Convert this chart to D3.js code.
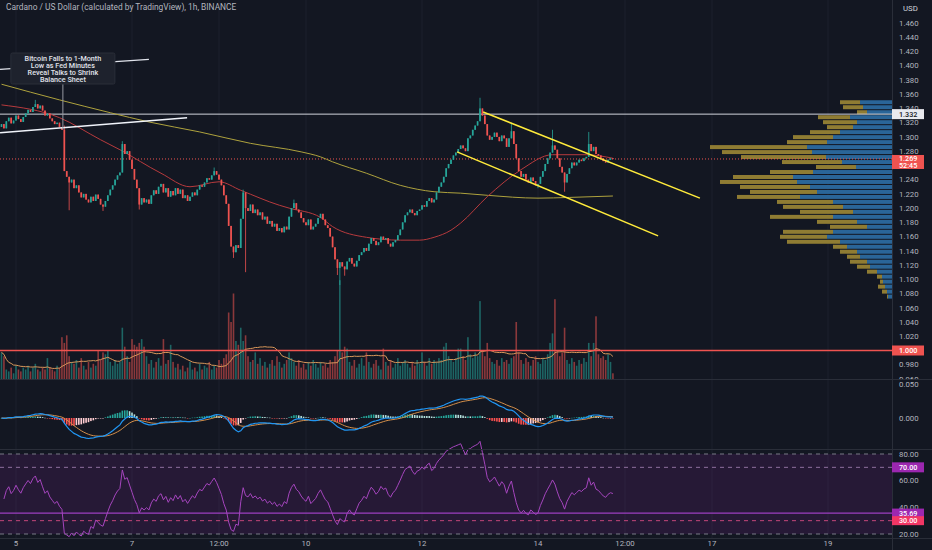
<!DOCTYPE html>
<html>
<head>
<meta charset="utf-8">
<script src="https://cdn.jsdelivr.net/npm/d3@7"></script>
<style>
 body { margin:0; background:#131722; }
 svg { display:block; font-family: Roboto, "Noto Sans", sans-serif; }
</style>
</head>
<body>
<svg id="chart" width="932" height="550"></svg>
<script>
// ADAUSD 1h candles, first candle = 4 Jan 2022 18:00
var firstOpen = 1.314;
var closes = [
 1.318,1.312,1.322,1.327,1.319,1.323,1.330,1.325,1.321,1.328,
 1.333,1.338,1.335,1.342,1.346,1.340,1.344,1.337,1.330,1.333,
 1.326,1.322,1.318,1.320,1.314,1.310,1.252,1.244,1.236,1.240,
 1.228,1.232,1.222,1.215,1.220,1.212,1.208,1.216,1.210,1.219,
 1.213,1.205,1.202,1.210,1.218,1.226,1.232,1.240,1.246,1.250,
 1.290,1.276,1.280,1.268,1.255,1.240,1.228,1.205,1.214,1.208,
 1.212,1.206,1.218,1.225,1.220,1.230,1.234,1.222,1.228,1.216,
 1.224,1.218,1.228,1.220,1.226,1.214,1.218,1.210,1.216,1.222,
 1.218,1.226,1.232,1.230,1.236,1.242,1.240,1.246,1.252,1.247,
 1.240,1.232,1.218,1.206,1.175,1.146,1.138,1.148,1.144,1.185,
 1.222,1.200,1.196,1.205,1.193,1.198,1.190,1.194,1.184,1.188,
 1.178,1.182,1.174,1.178,1.168,1.172,1.166,1.174,1.170,1.188,
 1.200,1.207,1.198,1.194,1.186,1.180,1.176,1.184,1.170,1.174,
 1.178,1.186,1.192,1.184,1.176,1.172,1.160,1.145,1.128,1.116,
 1.124,1.118,1.114,1.125,1.130,1.122,1.118,1.126,1.134,1.138,
 1.144,1.140,1.150,1.158,1.154,1.148,1.152,1.160,1.156,1.158,
 1.150,1.146,1.152,1.155,1.162,1.170,1.180,1.190,1.194,1.198,
 1.193,1.190,1.196,1.198,1.204,1.202,1.210,1.214,1.208,1.212,
 1.222,1.230,1.236,1.244,1.256,1.262,1.268,1.274,1.278,1.283,
 1.288,1.284,1.280,1.298,1.302,1.310,1.316,1.322,1.340,1.330,
 1.318,1.302,1.296,1.300,1.306,1.300,1.294,1.302,1.298,1.286,
 1.298,1.308,1.290,1.270,1.252,1.244,1.248,1.240,1.236,1.243,
 1.238,1.232,1.234,1.244,1.252,1.262,1.270,1.278,1.288,1.282,
 1.270,1.258,1.250,1.236,1.248,1.256,1.264,1.260,1.264,1.268,
 1.266,1.270,1.272,1.290,1.280,1.286,1.276,1.274,1.270,1.266,
 1.264,1.268,1.270,1.269
];
var wickHigh = {14:1.352, 50:1.294, 88:1.257, 100:1.226, 121:1.212, 198:1.355, 211:1.320, 228:1.310, 243:1.307, 26:1.316};
var wickLow  = {28:1.197, 42:1.196, 57:1.198, 96:1.130, 101:1.110, 139:1.106, 140:1.092, 142:1.105, 222:1.228, 233:1.223};
// volume, millions ADA
var volumes = [
 14,12,5,4,6,3,7,5,4,6,
 5,7,4,6,8,5,4,6,5,11,
 6,5,4,7,6,22,19,23,12,9,
 8,10,6,11,7,5,9,6,8,7,
 15,10,14,13,15,9,7,10,8,9,
 27,17,12,9,21,18,17,19,21,17,
 12,8,10,6,9,11,7,21,8,10,
 18,9,6,8,5,7,4,6,9,5,
 6,4,8,5,7,6,9,5,7,6,
 10,8,11,13,35,30,45,20,18,27,
 20,23,12,9,10,14,8,11,7,9,
 6,8,10,7,12,9,6,8,10,14,
 11,9,7,10,6,8,5,9,7,10,
 8,6,9,7,8,6,10,9,12,15,
 52,14,17,16,9,7,10,6,8,11,
 7,14,9,6,8,10,7,5,16,9,
 7,10,6,8,11,7,9,10,8,6,
 9,7,10,8,14,9,7,11,8,10,
 9,11,10,17,19,12,10,9,11,16,
 16,12,10,22,13,11,14,12,41,15,
 12,19,11,9,8,10,7,11,9,10,
 8,11,12,30,14,10,8,11,9,7,
 10,12,9,8,11,10,13,19,24,42,
 15,12,14,27,10,8,11,9,7,10,
 8,11,9,19,12,19,33,13,11,12,
 10,13,9,3
];
// moving averages on price: [candle index, price]
var maRed = [[0,1.345],[24,1.327],[41,1.296],[49,1.282],[66,1.249],[78,1.230],[90,1.237],[99,1.225],[115,1.204],[119,1.200],[132,1.187],[137,1.174],[151,1.159],[165,1.155],[173,1.155],[179,1.159],[186,1.169],[190,1.179],[201,1.216],[215,1.254],[228,1.275],[242,1.275],[253,1.270]];
var maYellow = [[0,1.374],[24,1.352],[45,1.334],[61,1.321],[82,1.307],[103,1.291],[124,1.279],[132,1.272],[137,1.265],[151,1.249],[165,1.232],[179,1.223],[190,1.221],[201,1.218],[222,1.214],[235,1.215],[253,1.217]];
// visible range volume profile
var pvPrices = [1.348,1.341,1.334,1.327,1.320,1.313,1.306,1.299,1.292,1.285,1.278,1.271,1.264,1.257,1.250,1.243,1.236,1.229,1.222,1.215,1.208,1.201,1.194,1.187,1.180,1.173,1.166,1.159,1.152,1.145,1.138,1.131,1.124,1.117,1.110,1.103,1.096,1.089,1.082,1.075];
var pvUp   = [32,29,25,42,35,39,52,59,65,85,80,66,50,36,79,99,95,82,75,92,59,49,39,59,35,25,59,65,52,45,35,32,25,22,15,10,9,7,5,4];
var pvDown = [20,20,10,32,34,26,30,40,40,97,90,85,60,40,43,60,77,70,67,63,56,60,53,63,40,37,50,47,53,14,17,13,17,13,10,5,3,7,5,1];
// drawings: [candle index, price]
var trendWhite = [[-0.6,1.306],[76.8,1.327]];
var trendNews  = [[-0.6,1.395],[61,1.409]];
var channelTop = [[199.3,1.335],[289,1.214]];
var channelBot = [[188.5,1.279],[271.7,1.161]];
var levelWhite = 1.332, levelRed = 1.000, lastPrice = 1.269;
var rsiMarker = 35.69;
var newsLines = ["Bitcoin Falls to 1-Month","Low as Fed Minutes","Reveal Talks to Shrink","Balance Sheet"];
// tick labels
var priceTicks = [0.96,0.98,1.02,1.04,1.06,1.08,1.10,1.12,1.14,1.16,1.18,1.20,1.22,1.24,1.28,1.30,1.32,1.34,1.36,1.38,1.40,1.42,1.44,1.46];
var macdTicks = [0, 0.05];
var rsiTicks = [20, 40, 60, 80];
var timeTicks = [new Date(2022,0,5), new Date(2022,0,7), new Date(2022,0,8,12), new Date(2022,0,10), new Date(2022,0,12), new Date(2022,0,14), new Date(2022,0,15,12), new Date(2022,0,17), new Date(2022,0,19)];

var svg = d3.select("#chart");
var axisX = 892;
var t0 = new Date(2022,0,4,18).getTime();
function tAt(i) { return new Date(t0 + i*3600000); }

var x = d3.scaleTime().domain([new Date(2022,0,5), new Date(2022,0,19)]).range([16, 828]);
var y = d3.scaleLinear().domain([1.0, 1.46]).range([350.5, 23]);
var yVol = d3.scaleLinear().domain([0, 60]).range([379, 265]);
var yMacd = d3.scaleLinear().domain([0, 0.05]).range([418, 384]);
var yRsi = d3.scaleLinear().domain([20, 80]).range([534, 454]);
var xi = function(i) { return x(tAt(i)); };

var candles = closes.map(function(c, i) {
    var o = i ? closes[i-1] : firstOpen;
    return {i:i, o:o, c:c, h: wickHigh[i] || Math.max(o,c), l: wickLow[i] || Math.min(o,c), v: volumes[i], up: c >= o};
});

// indicators
function ema(arr, n) {
    var k = 2/(n+1), e = arr[0];
    return arr.map(function(v, i) { e = i ? v*k + e*(1-k) : v; return e; });
}
var e12 = ema(closes, 12), e26 = ema(closes, 26);
var macd = closes.map(function(c, i) { return e12[i] - e26[i]; });
var signal = ema(macd, 9);
var hist = macd.map(function(m, i) { return m - signal[i]; });

// RSI 14 (Wilder), warm-up seeded neutral with the mean move of the first 14 bars
var changes = closes.slice(1).map(function(c, i) { return c - closes[i]; });
var seed = d3.mean(changes.slice(0, 14), function(d){ return Math.abs(d); }) / 2;
var ag = seed, al = seed;
var rsi = changes.map(function(d, k) {
    ag = (ag*13 + Math.max(d,0))/14;
    al = (al*13 + Math.max(-d,0))/14;
    return [k+1, 100 - 100/(1 + ag/al)];
});
var volMa = volumes.map(function(v, i) { return d3.mean(volumes.slice(Math.max(0, i-19), i+1)); });

// background + grid
svg.append("rect").attr("width", 932).attr("height", 550).attr("fill", "#131722");
svg.append("g").selectAll("line").data(timeTicks).enter().append("line")
   .attr("x1", function(d){ return x(d); }).attr("x2", function(d){ return x(d); })
   .attr("y1", 0).attr("y2", 538).attr("stroke", "#1d212c").attr("stroke-width", 1);

// RSI background band
svg.append("rect").attr("x", 0).attr("width", axisX).attr("y", yRsi(80)).attr("height", yRsi(20)-yRsi(80))
   .attr("fill", "#9c27b0").attr("opacity", 0.14);

// clip for main pane
var defs = svg.append("defs");
defs.append("clipPath").attr("id", "mainClip").append("rect").attr("x",0).attr("y",0).attr("width",axisX).attr("height",379);
defs.append("clipPath").attr("id", "axisClip").append("rect").attr("x",axisX).attr("y",0).attr("width",40).attr("height",379);
var main = svg.append("g").attr("clip-path", "url(#mainClip)");

// volume profile
var pvStep = Math.abs(y(1.007) - y(1.0));
var pv = main.append("g");
pvPrices.forEach(function(p, k) {
    var top = y(p + 0.0035), h = pvStep - 1;
    pv.append("rect").attr("x", axisX - pvUp[k]).attr("y", top).attr("width", pvUp[k]).attr("height", h).attr("fill", "#2a6598");
    pv.append("rect").attr("x", axisX - pvUp[k] - pvDown[k]).attr("y", top).attr("width", pvDown[k]).attr("height", h).attr("fill", "#8f7c33");
});

// volume bars
main.append("g").selectAll("rect").data(candles).enter().append("rect")
   .attr("x", function(d){ return xi(d.i) - 0.8; })
   .attr("y", function(d){ return yVol(d.v); })
   .attr("width", 1.6)
   .attr("height", function(d){ return yVol(0) - yVol(d.v); })
   .attr("fill", function(d){ return d.up ? "rgba(38,166,154,0.55)" : "rgba(239,83,80,0.55)"; });
main.append("path").datum(volMa)
   .attr("d", d3.line().x(function(d, i){ return xi(i); }).y(function(d){ return yVol(d); }))
   .attr("fill", "none").attr("stroke", "#d9975a").attr("stroke-width", 1);

// horizontal levels
main.append("line").attr("x1",0).attr("x2",axisX).attr("y1",y(levelRed)).attr("y2",y(levelRed))
   .attr("stroke","#ef5350").attr("stroke-width",1.3);
main.append("line").attr("x1",0).attr("x2",axisX).attr("y1",y(levelWhite)).attr("y2",y(levelWhite))
   .attr("stroke","#d1d4dc").attr("stroke-width",1);
main.append("line").attr("x1",0).attr("x2",axisX).attr("y1",y(lastPrice)).attr("y2",y(lastPrice))
   .attr("stroke","#ef5350").attr("stroke-width",1).attr("stroke-dasharray","1,2");

// moving averages
var maLine = d3.line().x(function(d){ return xi(d[0]); }).y(function(d){ return y(d[1]); }).curve(d3.curveMonotoneX);
main.append("path").datum(maYellow).attr("d", maLine).attr("fill","none").attr("stroke","#aea23d").attr("stroke-width",1);
main.append("path").datum(maRed).attr("d", maLine).attr("fill","none").attr("stroke","#b73a3d").attr("stroke-width",1);

// candles
var cg = main.append("g");
cg.selectAll("line").data(candles).enter().append("line")
  .attr("x1", function(d){ return xi(d.i); }).attr("x2", function(d){ return xi(d.i); })
  .attr("y1", function(d){ return y(d.h); }).attr("y2", function(d){ return y(d.l); })
  .attr("stroke", function(d){ return d.up ? "#26a69a" : "#ef5350"; }).attr("stroke-width", 0.8);
cg.selectAll("rect").data(candles).enter().append("rect")
  .attr("x", function(d){ return xi(d.i) - 0.85; })
  .attr("y", function(d){ return y(Math.max(d.o, d.c)); })
  .attr("width", 1.7)
  .attr("height", function(d){ return Math.max(0.8, Math.abs(y(d.o) - y(d.c))); })
  .attr("fill", function(d){ return d.up ? "#26a69a" : "#ef5350"; });

// drawings
var seg = d3.line().x(function(d){ return xi(d[0]); }).y(function(d){ return y(d[1]); });
main.append("path").datum(trendNews).attr("d", seg).attr("stroke", "#e0e3eb").attr("stroke-width", 1.2).attr("fill","none");
main.append("path").datum(trendWhite).attr("d", seg).attr("stroke", "#f0f3fa").attr("stroke-width", 1.5).attr("fill","none");
main.append("path").datum(channelTop).attr("d", seg).attr("stroke", "#ffeb3b").attr("stroke-width", 1.5).attr("fill","none");
main.append("path").datum(channelBot).attr("d", seg).attr("stroke", "#ffeb3b").attr("stroke-width", 1.5).attr("fill","none");

// news callout
var nx = xi(25.4);
main.append("line").attr("x1", nx).attr("x2", nx).attr("y1", 84).attr("y2", y(1.310))
   .attr("stroke", "#9598a1").attr("stroke-width", 1);
main.append("rect").attr("x", nx - 52).attr("y", 53).attr("width", 104).attr("height", 31).attr("rx", 1.5)
   .attr("fill", "#1e222d").attr("stroke", "#2a2e39");
main.append("g").selectAll("text").data(newsLines).enter().append("text")
   .attr("x", nx).attr("y", function(d, k){ return 60.5 + k*7; })
   .attr("text-anchor", "middle").attr("font-size", "7.2px").attr("font-weight", 500)
   .attr("fill", "#e0e3eb").text(function(d){ return d; });

// title
svg.append("text").attr("x", 6).attr("y", 10).attr("font-size", "8.4px").attr("fill", "#b2b5be")
   .text("Cardano / US Dollar (calculated by TradingView), 1h, BINANCE");

// MACD pane
var mg = svg.append("g");
mg.selectAll("rect").data(hist).enter().append("rect")
  .attr("x", function(d, i){ return xi(i) - 0.8; })
  .attr("y", function(d){ return Math.min(yMacd(d), yMacd(0)); })
  .attr("width", 1.6)
  .attr("height", function(d){ return Math.max(0.5, Math.abs(yMacd(d) - yMacd(0))); })
  .attr("fill", function(d, i){
      var prev = i ? hist[i-1] : d;
      if (d >= 0) return d >= prev ? "#26a69a" : "#b2dfdb";
      return d < prev ? "#ff5252" : "#ffcdd2";
  });
var mline = d3.line().x(function(d, i){ return xi(i); }).y(function(d){ return yMacd(d); });
mg.append("path").datum(signal).attr("d", mline).attr("fill","none").attr("stroke","#d48f4a").attr("stroke-width",1);
mg.append("path").datum(macd).attr("d", mline).attr("fill","none").attr("stroke","#2196f3").attr("stroke-width",1.2);

// RSI pane
var rg = svg.append("g");
[[80,"#787b86"],[70,"#8e6f9e"],[30,"#c2457a"],[20,"#787b86"]].forEach(function(l){
    rg.append("line").attr("x1",0).attr("x2",axisX).attr("y1",yRsi(l[0])).attr("y2",yRsi(l[0]))
      .attr("stroke", l[1]).attr("stroke-width",1).attr("stroke-dasharray","4,4");
});
rg.append("line").attr("x1",0).attr("x2",axisX).attr("y1",yRsi(rsiMarker)).attr("y2",yRsi(rsiMarker))
  .attr("stroke","#9c3fc0").attr("stroke-width",1.2);
rg.append("path").datum(rsi)
  .attr("d", d3.line().x(function(d){ return xi(d[0]); }).y(function(d){ return yRsi(d[1]); }))
  .attr("fill","none").attr("stroke","#a545be").attr("stroke-width",1);

// separators
svg.append("line").attr("x1",0).attr("x2",932).attr("y1",379.5).attr("y2",379.5).attr("stroke","#2a2e39");
svg.append("line").attr("x1",0).attr("x2",932).attr("y1",449.5).attr("y2",449.5).attr("stroke","#2a2e39");
svg.append("line").attr("x1",0).attr("x2",932).attr("y1",538.5).attr("y2",538.5).attr("stroke","#2a2e39");
svg.append("line").attr("x1",axisX+0.5).attr("x2",axisX+0.5).attr("y1",0).attr("y2",550).attr("stroke","#2a2e39");

// right axes
var ax = svg.append("g").attr("font-size","7.8px").attr("fill","#b2b5be");
ax.append("g").attr("clip-path","url(#axisClip)").selectAll("text").data(priceTicks).enter().append("text")
  .attr("x", 899).attr("y", function(d){ return y(d); }).attr("dy","0.35em").text(d3.format(".3f"));
ax.selectAll(null).data(macdTicks).enter().append("text")
  .attr("x", 899).attr("y", function(d){ return yMacd(d); }).attr("dy","0.35em").text(d3.format(".3f"));
ax.selectAll(null).data(rsiTicks).enter().append("text")
  .attr("x", 899).attr("y", function(d){ return yRsi(d); }).attr("dy","0.35em").text(d3.format(".2f"));
ax.append("text").attr("x", 903).attr("y", 8).attr("dy","0.35em").attr("fill","#d1d4dc").text("USD");

function tag(yc, h, bg, fg, lines) {
    svg.append("rect").attr("x", axisX).attr("y", yc - h/2).attr("width", 32).attr("height", h).attr("fill", bg);
    lines.forEach(function(t, k){
        svg.append("text").attr("x", 899).attr("y", yc - (lines.length-1)*3.3 + k*6.6).attr("dy","0.35em")
           .attr("font-size","7.2px").attr("font-weight",500).attr("fill", fg).text(t);
    });
}
tag(y(levelWhite), 10, "#e8eaef", "#131722", [d3.format(".3f")(levelWhite)]);
tag(y(lastPrice) + 3, 14, "#ef5350", "#ffffff", [d3.format(".3f")(lastPrice), "52:45"]);
tag(y(levelRed), 10, "#ef5350", "#ffffff", [d3.format(".3f")(levelRed)]);
tag(yRsi(70), 10, "#9c27b0", "#ffffff", ["70.00"]);
tag(yRsi(rsiMarker), 9, "#9c27b0", "#ffffff", [d3.format(".2f")(rsiMarker)]);
tag(yRsi(30), 9, "#f23665", "#ffffff", ["30.00"]);

// time axis
svg.append("g").selectAll("text").data(timeTicks).enter().append("text")
   .attr("x", function(d){ return x(d); }).attr("y", 546).attr("text-anchor","middle")
   .attr("font-size","7.8px").attr("fill","#b2b5be")
   .text(function(d){ return d.getHours() === 12 ? "12:00" : d.getDate(); });
</script>
</body>
</html>
